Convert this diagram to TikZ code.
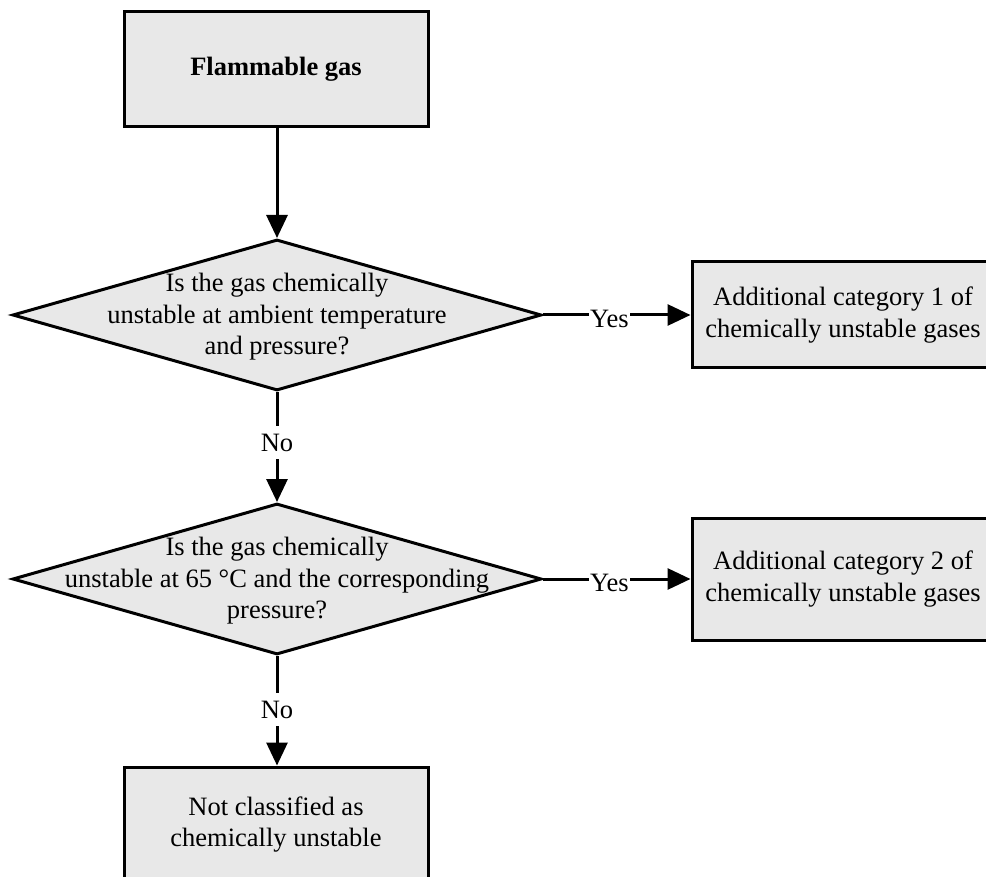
\documentclass[tikz,border=0pt]{standalone}
\usepackage{fontspec}
\setmainfont{Liberation Serif}
\usepackage{tikz}
\usetikzlibrary{arrows.meta,shapes.geometric,positioning,calc}
\definecolor{boxgray}{RGB}{232,232,232}
\tikzset{
  flowbox/.style={draw,line width=3pt,fill=boxgray,align=center,inner sep=0pt},
  decision/.style={draw,line width=3pt,fill=boxgray,diamond,inner sep=0pt,minimum width=529pt,minimum height=151pt},
  flowarrow/.style={line width=3pt,-{Triangle[length=23pt,width=21pt]}},
  answer/.style={fill=white,inner xsep=1pt,inner ysep=8pt}
}

\begin{document}
\begin{tikzpicture}[x=1pt,y=-1pt,font=\fontsize{26.5}{31.5}\selectfont]
    \useasboundingbox (0,0) rectangle (986,877);
    \node[flowbox,minimum width=304pt,minimum height=115pt] (gas) at (276,69.5) {\textbf{Flammable gas}};
    % first question
    \node[decision] (ambient) at (277,315) {};
    \node[align=center] (ambienttext) at (277,317) {Is the gas chemically\\unstable at ambient temperature\\and pressure?};
    \node[flowbox,minimum width=302pt,minimum height=106pt] (catone) at (843,315) {Additional category 1 of\\chemically unstable gases};
    % second question
    \node[decision] (hot) at (277,579) {};
    \node[align=center] (hottext) at (277,581) {Is the gas chemically\\unstable at 65 °C and the corresponding\\pressure?};
    \node[flowbox,minimum width=302pt,minimum height=122pt] (cattwo) at (843,579) {Additional category 2 of\\chemically unstable gases};
    \node[flowbox,minimum width=304pt,minimum height=115pt] (notcl) at (276,824.5) {Not classified as\\chemically unstable};
    % connectors
    \draw[flowarrow] (gas.south -| ambient.north) -- (ambient.north);
    \draw[flowarrow] (ambient.east) -- node[answer,pos=.45,yshift=-3.5pt] {Yes} (catone.west);
    \draw[flowarrow] (ambient.south) -- node[answer,pos=.46] {No} (hot.north);
    \draw[flowarrow] (hot.east) -- node[answer,pos=.45,yshift=-3.5pt] {Yes} (cattwo.west);
    \draw[flowarrow] (hot.south) -- node[answer,pos=.49] {No} (notcl.north -| hot.south);
  \end{tikzpicture}
\end{document}
